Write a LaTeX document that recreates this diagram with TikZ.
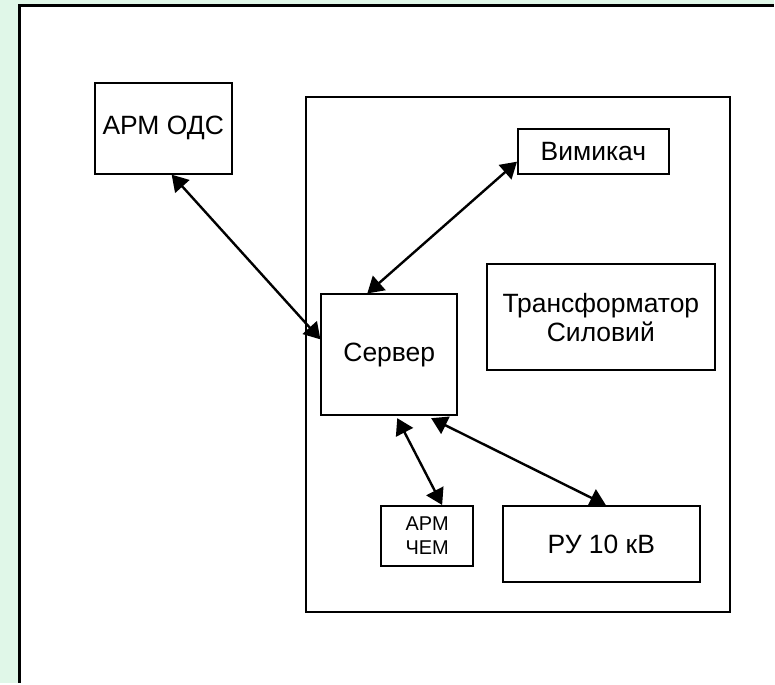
\documentclass[tikz,border=0pt]{standalone}
\usepackage{fontspec}
\setmainfont{Liberation Sans}
\usetikzlibrary{arrows.meta}
\definecolor{PaleMint}{HTML}{E0F7E8}

\begin{document}
\begin{tikzpicture}[x=1pt, y=-1pt,
    blk/.style={draw, line width=2pt, inner sep=0pt, font=\fontsize{26.5}{29}\selectfont, align=center},
    link/.style={line width=2.4pt, {Triangle[length=16pt,width=19pt]}-{Triangle[length=16pt,width=19pt]}}]
        % page and frame
        \fill[PaleMint] (0,0) rectangle (775,684);
        \fill[white] (20,6) rectangle (775,684);
        \draw[line width=3pt] (20,684) -- (20,6) -- (775,6);
        \useasboundingbox (0,0) rectangle (775,684);
        % substation container
        \draw[line width=2pt] (307,97) rectangle (731,613);
        
        \node[blk, minimum width=137pt, minimum height=91pt] (odc) at (163.5,128.5) {АРМ ОДС};
        \node[blk, minimum width=136pt, minimum height=121pt] (server) at (390,355.5) {Сервер};
        \node[blk, minimum width=151pt, minimum height=45pt] (vym) at (594.5,151.5) {Вимикач};
        \node[blk, minimum width=228pt, minimum height=106pt] (trans) at (602,318) {Трансформатор\\Силовий};
        \node[blk, minimum width=92pt, minimum height=60pt, font=\fontsize{20}{24}\selectfont] (chem) at (428,537) {АРМ\\ЧЕМ};
        \node[blk, minimum width=197pt, minimum height=76pt] (ru) at (602.5,545) {РУ 10 кВ};
        
        \draw[link] ([xshift=8.5pt]odc.south) -- ([yshift=15.5pt]server.west);
        \draw[link] ([xshift=-22pt]server.north) -- ([yshift=-10.5pt]vym.west);
        \draw[link] ([xshift=8pt,yshift=-2pt]server.south) -- ([xshift=15pt]chem.north);
        \draw[link] ([xshift=42pt,yshift=-2pt]server.south) -- ([xshift=4.5pt]ru.north);
\end{tikzpicture}
\end{document}
